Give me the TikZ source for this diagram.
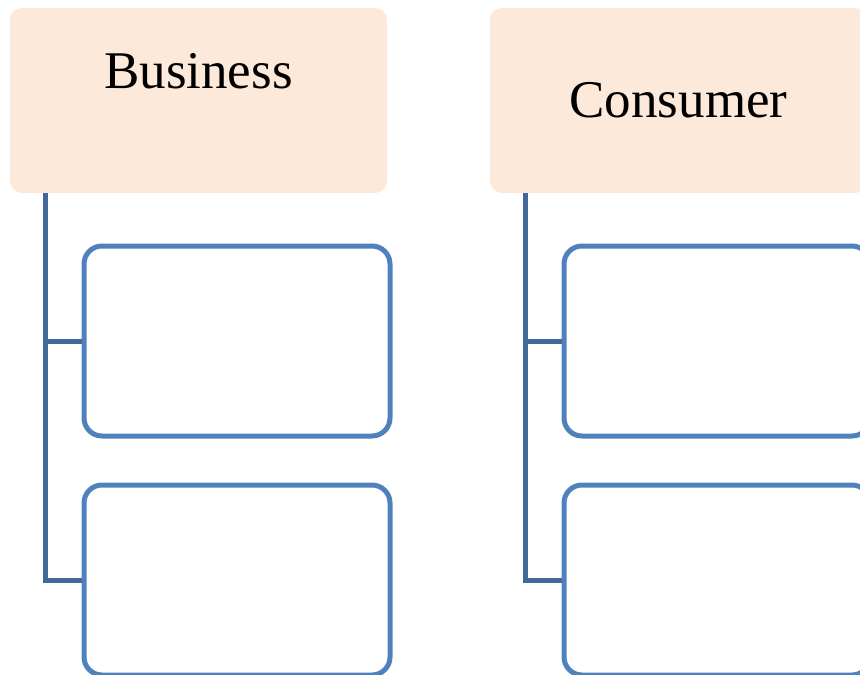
\documentclass[tikz,border=0pt]{standalone}
\usepackage{fontspec}
\setmainfont{Liberation Serif}
\definecolor{headfill}{RGB}{253,233,217}
\definecolor{boxline}{RGB}{79,129,189}
\definecolor{linkline}{RGB}{65,104,154}
\begin{document}
\begin{tikzpicture}[x=1pt,y=-1pt,
  headbox/.style={rectangle,rounded corners=12pt,fill=headfill,draw=none,
    minimum width=377pt,minimum height=185pt,inner sep=0pt},
  headtext/.style={inner sep=0pt,font=\fontsize{53}{60}\selectfont},
  childbox/.style={rectangle,rounded corners=18pt,draw=boxline,line width=5pt,
    fill=white,minimum width=306pt,minimum height=190pt,inner sep=0pt},
  link/.style={draw=linkline,line width=5pt}]
\useasboundingbox (0,0) rectangle (860,675);
% left column
\node[headbox] (bhead) at (198.5,100.5) {};
\node[headtext] (btext) at (198.5,71.5) {Business};
\node[childbox] (b1) at (237,341) {};
\node[childbox] (b2) at (237,580) {};
\coordinate (btop) at (45,193);
\draw[link] (btop) |- (b2.west);
\draw[link] (btop) |- (b1.west);
% right column
\node[headbox] (chead) at (678.5,100.5) {};
\node[headtext] (ctext) at (678.5,100) {Consumer};
\node[childbox] (c1) at (717,341) {};
\node[childbox] (c2) at (717,580) {};
\coordinate (ctop) at (525,193);
\draw[link] (ctop) |- (c2.west);
\draw[link] (ctop) |- (c1.west);
\end{tikzpicture}
\end{document}
